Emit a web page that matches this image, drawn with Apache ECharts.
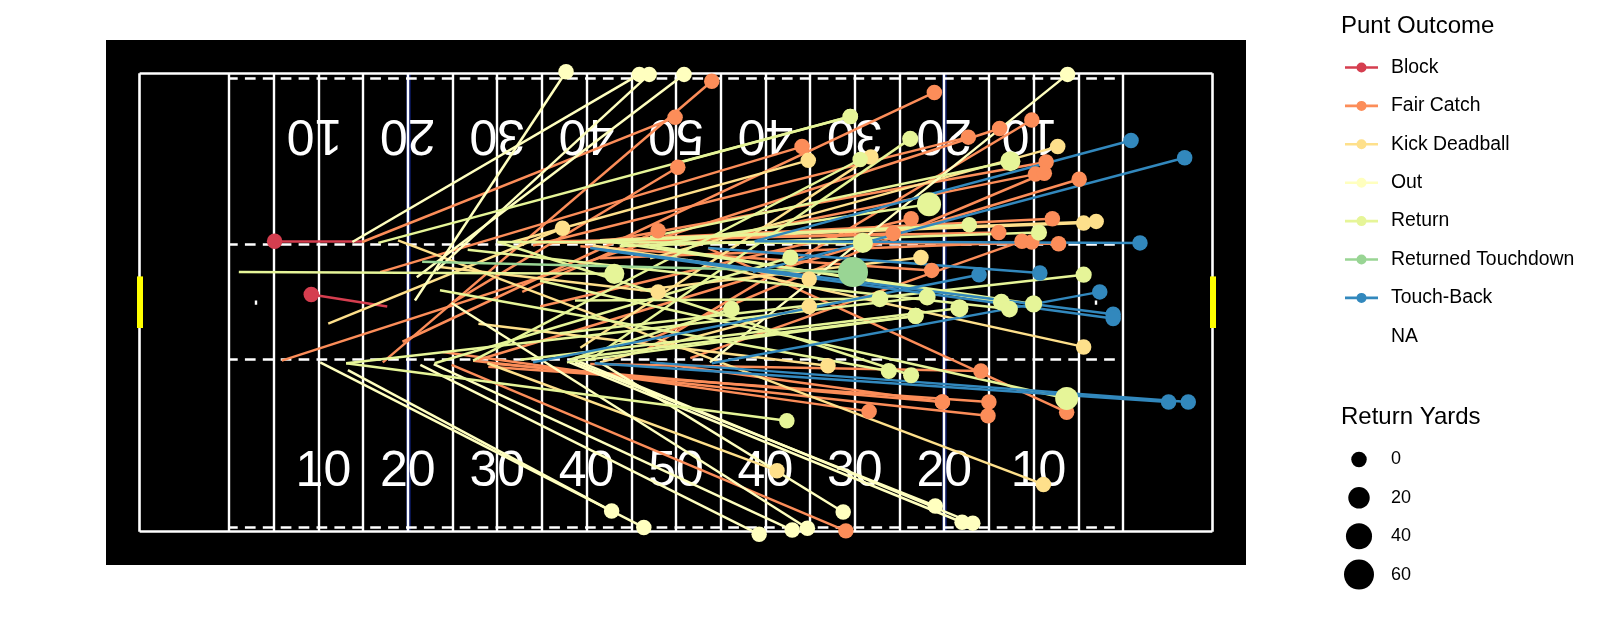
<!DOCTYPE html>
<html>
<head>
<meta charset="utf-8">
<style>html,body{margin:0;padding:0;background:#fff}#c{width:1600px;height:640px}</style>
<script src="https://cdn.jsdelivr.net/npm/echarts@6/dist/echarts.min.js"></script>
</head>
<body>
<div id="c"></div>
<script>
// Every row: start yard, start width-pos, end yard, end width-pos, return yards
const block = [[14.9,33.8,5.1,33.8,0],[17.7,26.2,9.2,27.6,0]];
const fairCatch = [
[14.9,33.7,49.9,48.2,0],[17.2,19.7,54.0,52.4,0],[32.8,27.9,48.0,35.0,0],[16.9,30.2,64.1,44.8,0],
[19.4,22.1,78.9,51.1,0],[24.9,26.6,50.2,42.4,0],[34.0,33.3,82.7,45.9,0],[46.2,20.9,89.8,47.9,0],
[5.9,19.9,86.2,46.9,0],[42.6,33.9,91.4,43.0,0],[50.4,33.3,90.2,41.6,0],[46.0,21.9,91.2,41.7,0],
[27.9,20.0,95.1,41.0,0],[34.8,26.2,76.3,36.4,0],[35.9,33.6,74.3,34.7,0],[41.5,33.9,92.1,36.4,0],
[32.6,33.7,86.1,34.8,0],[51.6,20.2,88.7,33.8,0],[41.5,31.8,89.8,33.7,0],[35.7,33.7,92.8,33.5,0],
[39.3,33.2,78.6,30.4,0],[53.6,33.0,93.7,13.9,0],[24.9,19.4,69.0,0.1,0],[23.9,20.9,71.6,14.0,0],
[29.0,19.6,79.8,15.1,0],[27.3,19.9,84.9,13.5,0],[29.0,19.2,85.0,15.1,0],[48.0,19.6,79.8,15.1,0],
[40.4,19.5,84.1,18.7,0]];
const kickDeadball = [
[11.1,24.2,37.3,35.3,0],[31.7,33.7,64.8,43.2,0],[39.3,21.4,71.8,43.6,0],[47.1,31.8,92.7,44.8,0],
[43.7,33.9,95.6,35.9,0],[41.5,33.9,97.0,36.1,0],[51.2,31.6,95.6,21.5,0],[27.9,24.2,67.0,19.3,0],
[18.9,33.9,91.1,5.5,0],[28.9,19.6,61.3,7.1,0],[40.7,33.3,64.9,29.4,0],[41.5,19.7,64.9,26.2,0],
[46.0,28.1,77.4,31.9,0],[23.6,30.8,48.0,27.9,0]];
const outOfBounds = [
[20.8,26.9,37.7,53.5,0],[13.8,33.7,45.9,53.2,0],[23.2,30.4,47.0,53.2,0],[21.0,29.6,50.9,53.2,0],
[53.8,19.7,93.8,53.2,0],[10.2,19.7,46.4,0.5,0],[13.3,18.8,42.8,2.4,0],[21.4,19.4,59.3,-0.3,0],
[22.9,19.5,63.0,0.2,0],[24.9,26.6,64.7,0.4,0],[41.5,19.7,68.7,2.3,0],[38.1,19.7,82.0,1.1,0],
[38.7,20.0,83.2,1.0,0],[38.7,19.7,79.0,3.0,0]];
const returned = [
[1.1,30.2,43.1,30.0,15],[16.7,33.6,69.5,48.3,0],[50.2,42.9,69.5,48.3,0],[27.3,19.9,70.6,43.3,0],
[40.4,20.0,76.2,45.7,2],[47.1,34.3,87.4,43.1,15],[48.2,33.5,78.3,38.1,31],[39.3,33.7,82.8,35.7,0],
[43.7,33.2,90.6,34.8,2],[30.0,33.7,70.9,33.6,15],[23.0,19.6,62.8,31.9,2],[37.0,23.1,95.6,29.9,2],
[38.7,26.9,72.8,27.1,4],[13.1,19.6,78.1,27.3,4],[32.6,20.0,81.7,26.0,8],[47.1,33.3,86.4,26.7,4],
[26.7,32.8,87.3,25.9,4],[41.5,33.9,90.0,26.5,5],[37.8,19.7,76.8,25.1,2],[38.7,20.2,76.8,25.1,2],
[38.1,20.0,56.2,25.9,3],[23.6,28.1,73.8,18.7,2],[30.1,33.7,76.3,18.2,2],[34.8,29.2,93.7,15.5,26],
[13.1,19.6,62.4,12.9,0]];
const returnedTouchdown = [[21.6,31.4,69.8,30.2,60]];
const touchBack = [
[58.8,33.8,100.9,45.5,0],[58.6,30.2,106.9,43.5,0],[58.8,33.8,101.9,33.6,0],[53.6,33.0,90.7,30.1,0],
[34.0,19.7,83.9,29.9,0],[54.0,19.6,97.4,27.9,0],[40.4,33.0,98.9,25.3,0],[41.5,32.8,98.9,24.8,0],
[40.9,19.6,105.1,15.1,0],[47.1,19.7,107.3,15.1,0]];

const outcomeNames = ['Block','Fair Catch','Kick Deadball','Out','Return','Returned Touchdown','Touch-Back','NA'];
const outcomeRows = [block,fairCatch,kickDeadball,outOfBounds,returned,returnedTouchdown,touchBack,[]];
const outcomeColors = ['#D53E4F','#FC8D59','#FEE08B','#FFFFBF','#E6F598','#99D594','#3288BD','rgba(0,0,0,0)'];

const sizeBreaks = ['0','20','40','60'];
const yardLines = [0,5,10,15,20,25,30,35,40,45,50,55,60,65,70,75,80,85,90,95,100];
const blueLines = [20,80];
const hashRows = [0.5,20.1,33.4,52.8];
const numberYards = [10,20,30,40,50,60,70,80,90];
const numberText = ['10','20','30','40','50','40','30','20','10'];

const FONT = '"Liberation Sans", Arial, sans-serif';
const FIELD_W = 53.33;
const sizeOf = y => Math.sqrt(240 + 11 * y);

const seg = (x0,y0,x1,y1) => ({coords:[[x0,y0],[x1,y1]]});
const fieldLines = (data,color,width,z,extra) => ({
  type:'lines',coordinateSystem:'cartesian2d',xAxisIndex:0,yAxisIndex:0,silent:true,z,
  polyline:false,data,lineStyle:Object.assign({color,width,opacity:1,curveness:0,cap:'butt'},extra||{}),animation:false
});

const series = [];
series.push(fieldLines(blueLines.map(x=>seg(x,0,x,FIELD_W)),'#0b1a66',4.5,1));
series.push(fieldLines(yardLines.map(x=>seg(x,0,x,FIELD_W)),'#ffffff',2.4,2));
series.push(fieldLines([seg(-10,0,110,0),seg(-10,FIELD_W,110,FIELD_W),seg(-10,0,-10,FIELD_W),seg(110,0,110,FIELD_W)],'#ffffff',2.6,2));
series.push(fieldLines(hashRows.map(y=>seg(0,y,100,y)),'#ffffff',2.6,2,{type:[10.7,7.2],dashOffset:2}));
series.push(fieldLines([seg(3,26.4,3,26.9),seg(97,26.4,97,26.9)],'#ffffff',2.4,2));
series.push(fieldLines([seg(-10,23.7,-10,29.7),seg(110,23.7,110,29.7)],'#ffff00',6,3));

const numberSeries = (y,rotate,tenShift) => ({
  type:'scatter',silent:true,z:3,symbolSize:0,animation:false,itemStyle:{opacity:1},
  data:numberYards.map((x,i)=>({value:[x,y],label:{formatter:numberText[i],offset:[numberText[i]==='10'?tenShift:0,0]}})),
  label:{show:true,position:'inside',rotate,color:'#ffffff',opacity:1,fontFamily:FONT,fontSize:50}
});
series.push(numberSeries(6.9,0,5));
series.push(numberSeries(46.3,180,4));

outcomeNames.forEach((name,i)=>{
  series.push({
    type:'lines',name:name+' path',coordinateSystem:'cartesian2d',silent:true,z:4,animation:false,
    data:outcomeRows[i].map(r=>seg(r[0],r[1],r[2],r[3])),
    lineStyle:{color:outcomeColors[i],width:2.5,opacity:1,curveness:0}
  });
});
outcomeNames.forEach((name,i)=>{
  series.push({
    type:'scatter',name,z:5,silent:true,animation:false,clip:false,
    data:outcomeRows[i].map(r=>[r[2],r[3],r[4]]),
    symbolSize:v=>sizeOf(v[2]),
    itemStyle:{color:outcomeColors[i],opacity:1}
  });
});
series.push({
  type:'scatter',xAxisIndex:1,yAxisIndex:1,silent:true,animation:false,
  data:sizeBreaks.map(b=>[0.5,b]),
  symbolSize:v=>sizeOf(Number(v[1])),
  itemStyle:{color:'#000',opacity:1}
});

const legendIcon = 'path://M0 3.7H33V6.3H0Z M16.5 0A5 5 0 1 1 16.5 10A5 5 0 1 1 16.5 0Z';
const option = {
  animation:false,
  backgroundColor:'#fff',
  textStyle:{fontFamily:FONT},
  title:[
    {text:'Punt Outcome',left:1336,top:9,textStyle:{fontSize:24,fontWeight:'normal',color:'#000',fontFamily:FONT}},
    {text:'Return Yards',left:1336,top:400,textStyle:{fontSize:24,fontWeight:'normal',color:'#000',fontFamily:FONT}}
  ],
  legend:{
    orient:'vertical',left:1340,top:53,selectedMode:false,itemWidth:33,itemHeight:10,itemGap:19.4,
    data:outcomeNames.map(name=>({name,icon:legendIcon})),
    textStyle:{fontFamily:FONT,fontSize:19.4,color:'#000',padding:[0,0,0,8]}
  },
  grid:[
    {left:106,top:40,width:1140,height:525,show:true,backgroundColor:'#000',borderWidth:0},
    {left:1339,top:440.2,width:40,height:153.6,show:false}
  ],
  xAxis:[
    {type:'value',gridIndex:0,min:-13.76,max:113.76,show:false},
    {type:'value',gridIndex:1,min:0,max:1,show:false}
  ],
  yAxis:[
    {type:'value',gridIndex:0,min:-3.87,max:57.2,show:false},
    {type:'category',gridIndex:1,data:sizeBreaks,inverse:true,position:'right',
     axisLine:{show:false},axisTick:{show:false},splitLine:{show:false},
     axisLabel:{margin:12,fontFamily:FONT,fontSize:18,color:'#000'}}
  ],
  series
};
echarts.init(document.getElementById('c'),null,{renderer:'canvas'}).setOption(option);
</script>
</body>
</html>
